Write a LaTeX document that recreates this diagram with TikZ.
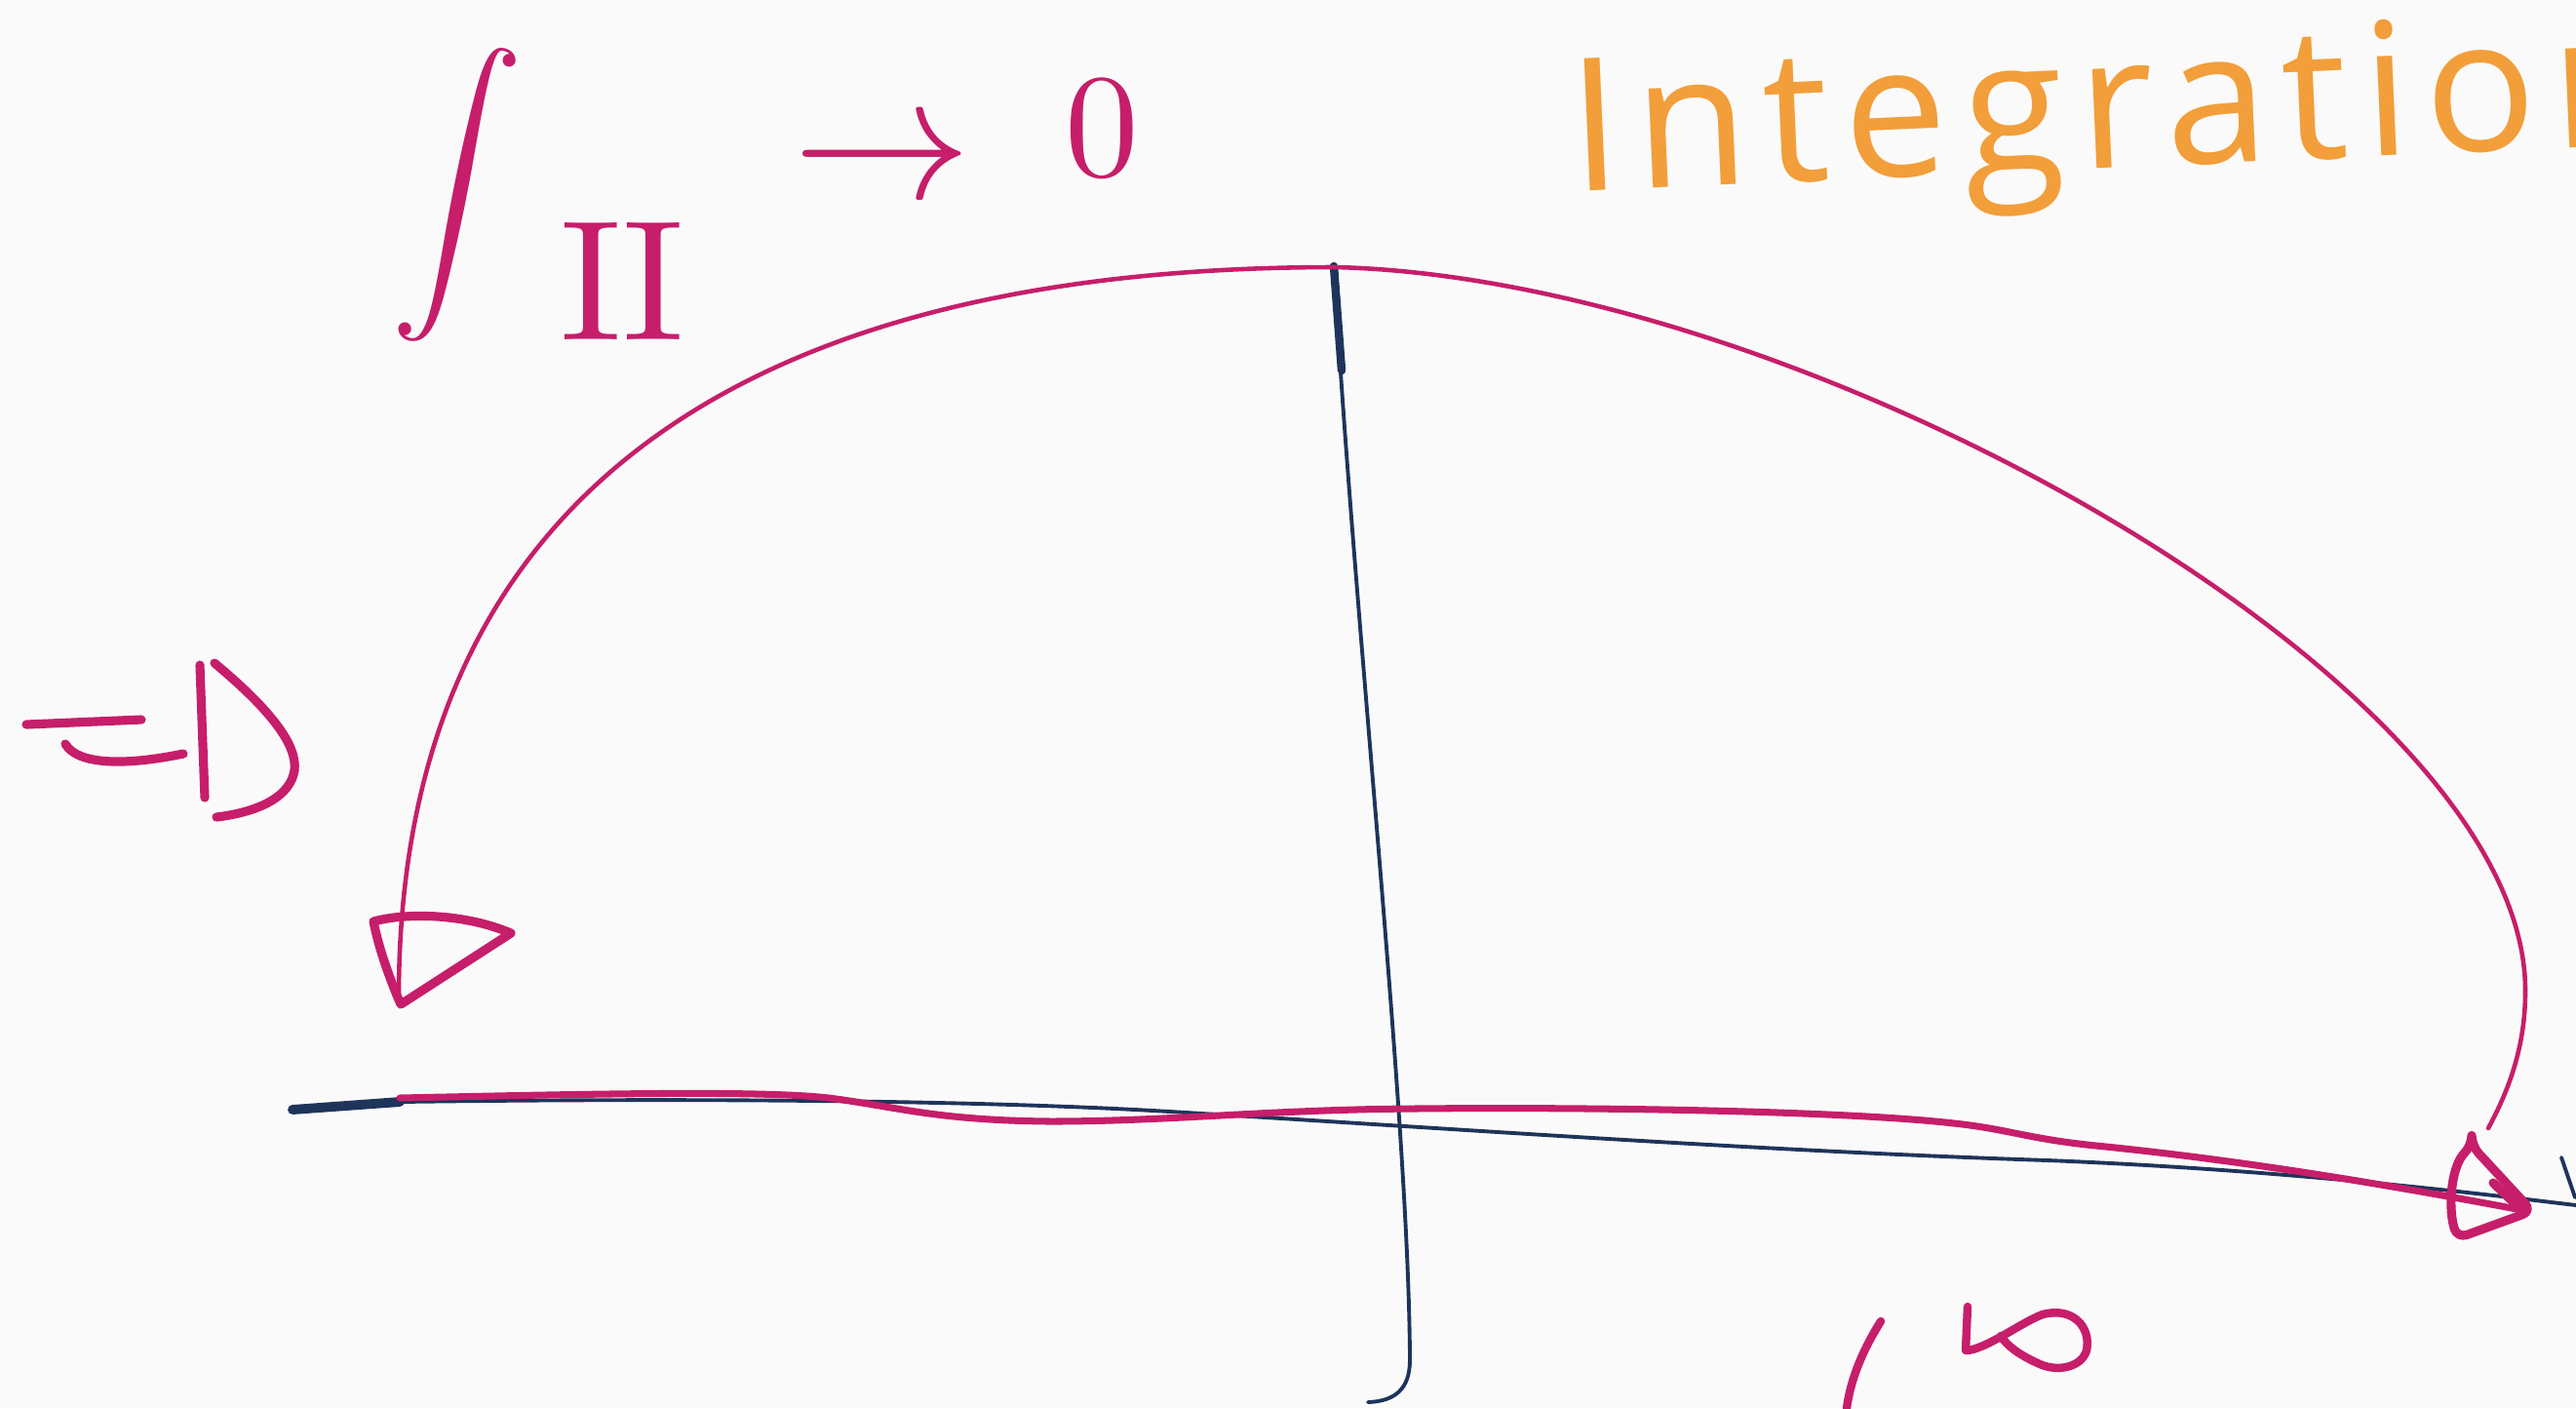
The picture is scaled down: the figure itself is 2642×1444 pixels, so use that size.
\documentclass[tikz,border=0pt]{standalone}
\usepackage{fontspec}
\newfontfamily\handfont[LetterSpace=8]{Open Sans}
\definecolor{magc}{RGB}{198,30,106}
\definecolor{orc}{RGB}{242,158,58}
\definecolor{navc}{RGB}{30,52,90}
\definecolor{bgc}{RGB}{251,250,250}
\tikzset{
  pinkline/.style={draw=magc, line width=1.3pt},
  pinkthick/.style={draw=magc, line width=2.6pt},
  blueline/.style={draw=navc, line width=1.1pt},
  txt/.style={inner sep=0pt, outer sep=0pt},
}
\begin{document}
\begin{tikzpicture}[x=0.01cm, y=-0.01cm, line cap=round, line join=round]
\fill[bgc] (0,0) rectangle (2642,1444);
\useasboundingbox (0,0) rectangle (2642,1444);

% ---- axes (blue)
\draw[blueline, line width=2.8pt] (300,1138) -- (410,1130);
\draw[blueline] (410,1130) .. controls (700,1126) and (1000,1128) .. (1200,1140)
  .. controls (1500,1158) and (1800,1180) .. (2100,1190)
  .. controls (2350,1200) and (2550,1225) .. (2642,1236);
\draw[blueline] (2627,1187) -- (2641,1228);
\draw[blueline, line width=2.4pt] (1368,273) -- (1376,380);
\draw[blueline] (1368,273) .. controls (1390,650) and (1445,1150) .. (1446,1395)
  .. controls (1446,1425) and (1430,1437) .. (1403,1438);

% ---- contour (magenta)
\coordinate (ctop) at (1369,274);
\coordinate (cright) at (2590,1017);
\coordinate (cend) at (409,1023);
\draw[pinkline] (2552,1157) .. controls (2572,1120) and (2590,1075) .. (cright)
  .. controls (2592,700) and (1850,285) .. (ctop)
  .. controls (735,274) and (409,529) .. (cend);
\draw[magc, line width=2pt] (410,1126) .. controls (600,1122) and (780,1118) .. (850,1126)
  .. controls (920,1135) and (960,1149) .. (1077,1150)
  .. controls (1200,1150) and (1300,1138) .. (1450,1137)
  .. controls (1650,1135) and (1900,1140) .. (2004,1152)
  .. controls (2060,1158) and (2080,1168) .. (2150,1175)
  .. controls (2300,1190) and (2450,1215) .. (2592,1242);

% arrowheads
\draw[pinkthick, rounded corners=3pt] (2535,1175) -- (2597,1242) -- (2520,1270) .. controls (2510,1235) and (2515,1195) .. (2535,1175) -- cycle;
\draw[pinkthick] (2557,1213) -- (2582,1237);
\draw[pinkthick] (383,945) .. controls (420,935) and (480,938) .. (524,957) -- (411,1030) .. controls (398,1000) and (388,970) .. (383,945);

% ---- "=>" sign
\draw[pinkthick] (27,743) -- (145,738);
\draw[pinkthick] (67,763) .. controls (80,785) and (130,785) .. (188,773);
\draw[pinkthick] (205,682) -- (210,818);
\draw[pinkthick] (220,680) .. controls (280,730) and (305,765) .. (302,790) .. controls (298,815) and (270,832) .. (222,838);

% ---- bottom partial marks
\draw[magc, line width=2.4pt] (1929,1355) .. controls (1910,1385) and (1898,1415) .. (1894,1444);
\draw[magc, line width=2.4pt] (2018,1340) -- (2016,1385) .. controls (2035,1385) and (2075,1355) .. (2095,1348) .. controls (2125,1340) and (2145,1360) .. (2140,1385) .. controls (2135,1402) and (2110,1408) .. (2090,1398) .. controls (2072,1390) and (2058,1380) .. (2052,1370);

% ---- texts
\node[txt, text=magc] (intsym) at (469,200) {\scalebox{3.85}{$\displaystyle\int$}};
\node[txt, text=magc] (part) at (638,288) {\scalebox{5}{$\mathrm{II}$}};
\node[txt, text=magc] (arrow) at (905,170) {\scalebox{5.2}{$\to$}};
\node[txt, text=magc] (zero) at (1130,132) {\scalebox{4.3}{$0$}};
\node[txt, text=orc, anchor=base west, rotate=2.5] (title) at (1612,196) {\handfont\fontsize{54}{60}\selectfont Integration};
\end{tikzpicture}
\end{document}
